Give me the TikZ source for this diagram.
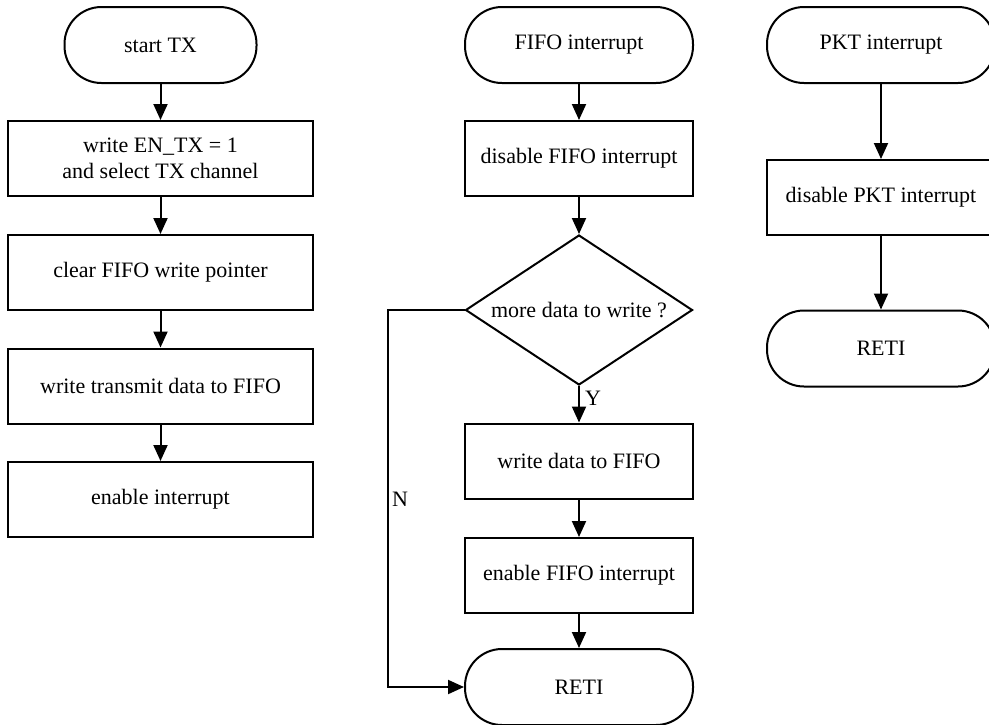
\documentclass[tikz,border=0pt]{standalone}
\usepackage{fontspec}
\setmainfont{Liberation Serif}
\usetikzlibrary{shapes.geometric,arrows.meta}
\begin{document}
\begin{tikzpicture}[x=1pt,y=-1pt,
  every node/.style={font=\fontsize{22}{26}\selectfont},
  term/.style={draw, line width=2pt, rounded corners=37pt, minimum width=#1, minimum height=76pt, inner sep=0pt},
  term/.default=228pt,
  stepbox/.style={draw, line width=2pt, minimum width=#1, minimum height=75pt, inner sep=0pt, align=center},
  stepbox/.default=228pt,
  dec/.style={diamond, draw, line width=2pt, minimum width=227pt, minimum height=150pt, inner sep=0pt},
  arr/.style={line width=2pt, -{Triangle[length=16pt,width=14pt]}},
  lbl/.style={inner sep=0pt, anchor=west}
]
\useasboundingbox (0,0) rectangle (989,724);

% left column
\node[term=192pt] (s)  at (160.5,45) {start TX};
\node[stepbox=305pt] (a1) at (160.5,158.5) {write EN\_TX = 1\\and select TX channel};
\node[stepbox=305pt] (a2) at (160.5,272.5) {clear FIFO write pointer};
\node[stepbox=305pt] (a3) at (160.5,386) {write transmit data to FIFO};
\node[stepbox=305pt] (a4) at (160.5,499.5) {enable interrupt};
\draw[arr] (s) -- (a1);
\draw[arr] (a1) -- (a2);
\draw[arr] (a2) -- (a3);
\draw[arr] (a3) -- (a4);

% middle column
\node[term] (f)  at (579,45) {FIFO interrupt};
\node[stepbox] (m1) at (579,158.5) {disable FIFO interrupt};
\node[dec] (d) at (579,310) {\makebox[0pt]{more data to write ?}};
\node[stepbox] (m2) at (579,461) {write data to FIFO};
\node[stepbox] (m3) at (579,575.5) {enable FIFO interrupt};
\node[term] (r1) at (579,687) {RETI};
\draw[arr] (f) -- (m1);
\draw[arr] (m1) -- (d);
\draw[arr] (d) -- (m2);
\draw[arr] (m2) -- (m3);
\draw[arr] (m3) -- (r1);
\coordinate (nc1) at (388,310);
\coordinate (nc2) at (388,687);
\draw[arr] (d.west) -- (nc1) -- (nc2) -- (r1.west);
\node[lbl] (y) at (585,398) {Y};
\node[lbl] (n) at (392,499) {N};

% right column
\node[term] (p)  at (881,45) {PKT interrupt};
\node[stepbox] (q1) at (881,197.5) {disable PKT interrupt};
\node[term] (r2) at (881,348.5) {RETI};
\draw[arr] (p) -- (q1);
\draw[arr] (q1) -- (r2);
\end{tikzpicture}
\end{document}
